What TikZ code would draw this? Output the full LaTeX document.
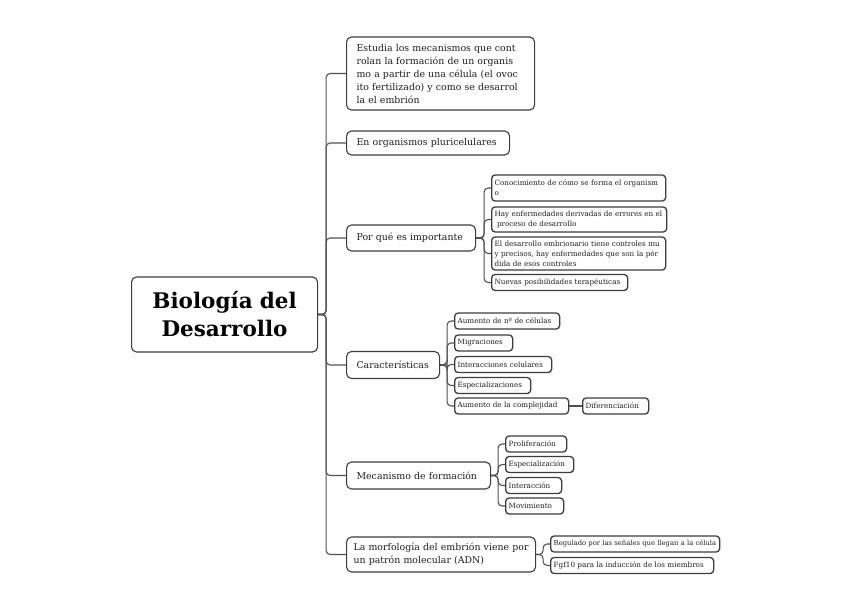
\documentclass[tikz,border=0pt]{standalone}
\usepackage{fontspec}
\setmainfont{DejaVu Serif}
\definecolor{bd}{HTML}{3C3C3C}
\definecolor{ln}{HTML}{505050}
\definecolor{tx}{HTML}{1E1E1E}
\begin{document}
\begin{tikzpicture}[x=1pt,y=-1pt,
  rootbox/.style={draw=bd, line width=1.1pt, rounded corners=5pt, fill=white, anchor=west, align=center,
    font=\fontsize{21.5}{28}\selectfont\bfseries, inner xsep=4pt, inner ysep=0pt, text=black},
  lone/.style={draw=bd, line width=1.1pt, rounded corners=5pt, fill=white, anchor=west, align=left,
    font=\fontsize{9.4}{13}\selectfont, inner xsep=10pt, inner ysep=0pt, text=tx},
  sm/.style={draw=bd, line width=1.3pt, rounded corners=3.5pt, fill=white, anchor=west, align=left,
    font=\fontsize{7.2}{10}\selectfont, inner xsep=3pt, inner ysep=0pt, minimum height=16pt, text=tx},
  conn/.style={draw=ln, line width=1.1pt, rounded corners=4pt}]
\useasboundingbox (0,0) rectangle (848,599);

% root
\node[rootbox, text width=178pt, minimum height=75pt] (r) at (131,314.5) {Biología del\\Desarrollo};

% level 1
\node[lone, text width=168pt, minimum height=73pt] (a) at (346,73.5) {Estudia los mecanismos que cont\\rolan la formación de un organis\\mo a partir de una célula (el ovoc\\ito fertilizado) y como se desarrol\\la el embrión};
\node[lone, text width=143pt, minimum height=24pt] (b) at (346,143) {En organismos pluricelulares};
\node[lone, text width=109pt, minimum height=26pt] (c) at (346,238) {Por qué es importante};
\node[lone, text width=73pt, minimum height=27pt] (d) at (346,365) {Características};
\node[lone, text width=124pt, minimum height=27pt] (e) at (346,475.5) {Mecanismo de formación};
\node[lone, inner xsep=7pt, text width=175pt, minimum height=35pt] (f) at (346,554.5) {\mbox{La morfología del embrión viene por}\\un patrón molecular (ADN)};

% children of c
\node[sm, text width=168pt, minimum height=26pt] (c1) at (491,188) {Conocimiento de cómo se forma el organism\\o};
\node[sm, text width=169pt, minimum height=25pt] (c2) at (491,219.5) {Hay enfermedades derivadas de errores en el\\\ proceso de desarrollo};
\node[sm, text width=168pt, minimum height=33pt] (c3) at (491,253.5) {El desarrollo embrionario tiene controles mu\\y precisos, hay enfermedades que son la pér\\dida de esos controles};
\node[sm, text width=130pt] (c4) at (491,282.5) {Nuevas posibilidades terapéuticas};

% children of d
\node[sm, text width=99pt] (d1) at (454,321) {Aumento de nº de células};
\node[sm, text width=52pt] (d2) at (454,343) {Migraciones};
\node[sm, text width=91pt] (d3) at (454,364.5) {Interacciones celulares};
\node[sm, text width=70pt] (d4) at (454,385.5) {Especializaciones};
\node[sm, text width=108pt] (d5) at (454,406) {Aumento de la complejidad};
\node[sm, text width=60pt] (d6) at (582,406) {Diferenciación};

% children of e
\node[sm, text width=55pt] (e1) at (505,444) {Proliferación};
\node[sm, text width=62pt] (e2) at (505,464.5) {Especialización};
\node[sm, text width=50pt] (e3) at (505,485.5) {Interacción};
\node[sm, text width=52pt] (e4) at (505,506) {Movimiento};

% children of f
\node[sm, text width=163pt, font=\fontsize{6.8}{10}\selectfont] (f1) at (550,544) {Regulado por las señales que llegan a la célula};
\node[sm, text width=157pt] (f2) at (550,565.5) {Fgf10 para la inducción de los miembros};

% trunk connectors
\foreach \n in {a,b,c,d,e,f}{
  \draw[conn] (r.east) -- ++(8,0) |- (\n.west);
}
\foreach \n in {c1,c2,c3,c4}{
  \draw[conn] (c.east) -- ++(8,0) |- (\n.west);
}
\foreach \n in {d1,d2,d3,d4,d5}{
  \draw[conn] (d.east) -- ++(7,0) |- (\n.west);
}
\draw[conn] (d5.east) -- (d6.west);
\foreach \n in {e1,e2,e3,e4}{
  \draw[conn] (e.east) -- ++(7,0) |- (\n.west);
}
\foreach \n in {f1,f2}{
  \draw[conn] (f.east) -- ++(7,0) |- (\n.west);
}
\end{tikzpicture}
\end{document}
